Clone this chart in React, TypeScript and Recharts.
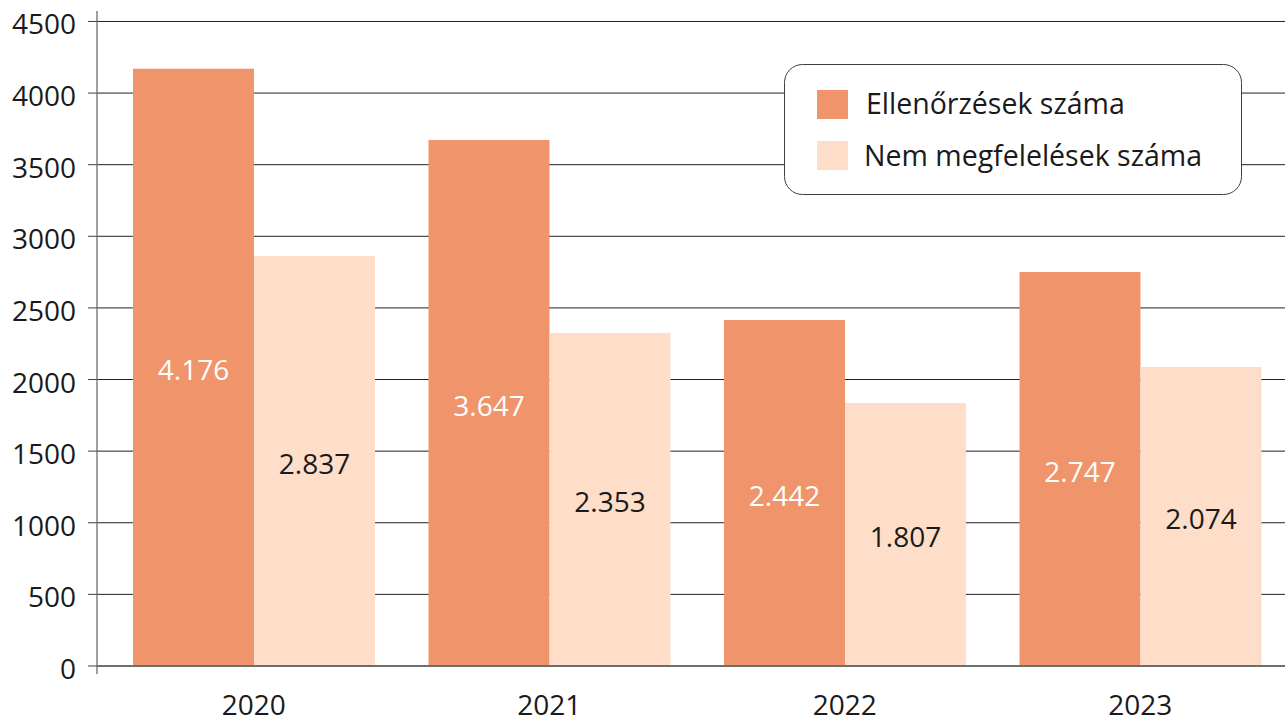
import React from 'react';
import { BarChart, Bar, XAxis, YAxis, Legend, LabelList, ReferenceLine, CartesianGrid } from 'recharts';

const years = ['2020', '2021', '2022', '2023'];
const inspections = [4170, 3673, 2416, 2751];
const nonCompliance = [2863, 2325, 1836, 2088];
const inspectionLabels = ['4.176', '3.647', '2.442', '2.747'];
const nonComplianceLabels = ['2.837', '2.353', '1.807', '2.074'];
const yTicks = [0, 500, 1000, 1500, 2000, 2500, 3000, 3500, 4000, 4500];
const yDomain = [-56, 4573];
const seriesNames = ['Ellenőrzések száma', 'Nem megfelelések száma'];
const colors = ['#F0956B', '#FEDDC9'];

const data = years.map((y, i) => ({
  year: y,
  a: inspections[i],
  b: nonCompliance[i],
  la: inspectionLabels[i],
  lb: nonComplianceLabels[i],
}));

const FONT = '"Open Sans", sans-serif';
const TEXT = '#1a1a1a';

const YTick = (props: any) => {
  const { x, y, payload } = props;
  return (
    <text x={x} y={y} dy={13} textAnchor="end" fontFamily={FONT} fontSize={28} fill={TEXT}>
      {payload.value}
    </text>
  );
};

const XTick = (props: any) => {
  const { x, y, payload } = props;
  return (
    <text x={x} y={y} dy={41} textAnchor="middle" fontFamily={FONT} fontSize={28} fill={TEXT}>
      {payload.value}
    </text>
  );
};

const LegendBox = (props: any) => {
  const payload = props.payload || [];
  return (
    <svg width={458} height={131} style={{ display: 'block' }}>
      <rect x={0.5} y={0.5} width={457} height={130} rx={18} ry={18} fill="#fff" stroke="#404040" strokeWidth={1} />
      {payload.map((p: any, i: number) => (
        <g key={i}>
          <rect x={33} y={i === 0 ? 26 : 77} width={31} height={29} fill={p.color} />
          <text x={i === 0 ? 82 : 80} y={i === 0 ? 50 : 102} fontFamily={FONT} fontSize={28.5} fill={TEXT}>
            {p.value}
          </text>
        </g>
      ))}
    </svg>
  );
};

const gridGenerator = (args: any) => {
  const ticks = yTicks.filter((t) => t !== 0);
  const yAxis = args && args.yAxis;
  const sc = yAxis && yAxis.scale;
  if (typeof sc === 'function') return ticks.map((t) => sc(t));
  if (sc && typeof sc.map === 'function') return ticks.map((t) => sc.map(t));
  const off = (args && args.offset) || {};
  const top = off.top ?? 11;
  const h = off.height ?? 663;
  return ticks.map((t) => top + (h * (yDomain[1] - t)) / (yDomain[1] - yDomain[0]));
};

export default function App() {
  return (
    <div style={{ width: 1285, height: 721, overflow: 'hidden' }}>
      <style>{'body{margin:0;overflow:hidden}'}</style>
      <BarChart
        width={1288}
        height={721}
        data={data}
        margin={{ top: 11, right: 0, bottom: 0, left: 0 }}
        barSize={121}
        barGap={0}
      >
        <CartesianGrid
          vertical={false}
          stroke="#1f1f1f"
          strokeWidth={1}
          horizontalCoordinatesGenerator={gridGenerator}
        />
        <XAxis
          dataKey="year"
          axisLine={false}
          tickLine={false}
          tickSize={0}
          tickMargin={0}
          height={47}
          padding={{ left: 9, right: 0 }}
          tick={<XTick />}
          interval={0}
        />
        <YAxis
          width={97}
          domain={yDomain}
          ticks={yTicks}
          allowDataOverflow
          axisLine={{ stroke: '#808080', strokeWidth: 1.5 }}
          tickLine={{ stroke: '#404040' }}
          tickSize={9}
          tickMargin={12}
          tick={<YTick />}
          interval={0}
        />
        <Legend
          layout="vertical"
          align="center"
          verticalAlign="middle"
          content={<LegendBox />}
          wrapperStyle={{ position: 'absolute', left: 784, top: 64, width: 458, height: 131 }}
        />
        <Bar dataKey="a" name={seriesNames[0]} fill={colors[0]} isAnimationActive={false}>
          <LabelList dataKey="la" position="center" fill="#ffffff" fontFamily={FONT} fontSize={28} dy={3} />
        </Bar>
        <Bar dataKey="b" name={seriesNames[1]} fill={colors[1]} isAnimationActive={false}>
          <LabelList dataKey="lb" position="center" fill={TEXT} fontFamily={FONT} fontSize={28} dy={3} />
        </Bar>
        <ReferenceLine y={0} stroke="#6e6e6e" strokeWidth={2} />
      </BarChart>
    </div>
  );
}
